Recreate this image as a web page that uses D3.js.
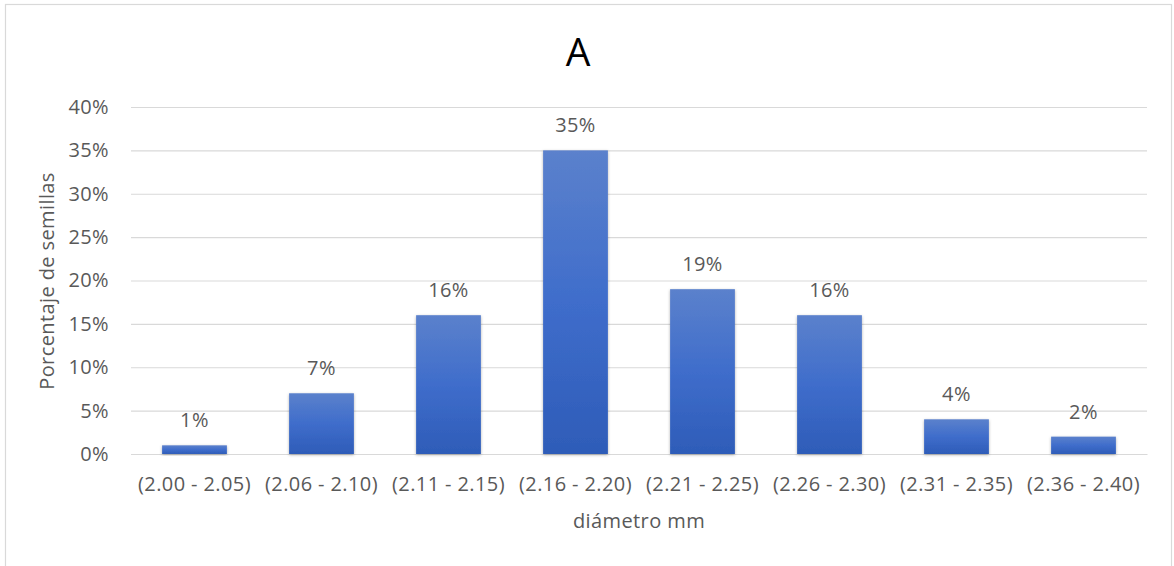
<!DOCTYPE html>
<html>
<head>
<meta charset="utf-8">
<script src="https://cdn.jsdelivr.net/npm/d3@7/dist/d3.min.js"></script>
<style>
  html, body { margin: 0; padding: 0; background: #fff; }
  svg { display: block; }
  text { font-family: "Open Sans", "Segoe UI", sans-serif; fill: #595959; }
</style>
</head>
<body>
<svg id="chart" width="1174" height="566"></svg>
<script>
// Seed diameter classes and the share of seeds in each
const categories = ["(2.00 - 2.05)", "(2.06 - 2.10)", "(2.11 - 2.15)", "(2.16 - 2.20)",
                    "(2.21 - 2.25)", "(2.26 - 2.30)", "(2.31 - 2.35)", "(2.36 - 2.40)"];
const percentages = [1, 7, 16, 35, 19, 16, 4, 2];
const yTicks = [0, 5, 10, 15, 20, 25, 30, 35, 40];

const svg = d3.select("#chart");
const W = 1174, H = 566;
const margin = { left: 131, right: 27, top: 107, bottom: 112 };
const FS = "20px", LS = "0.4px";

// Outer chart frame
svg.append("rect")
  .attr("x", 5.5).attr("y", 4.5)
  .attr("width", W - 8).attr("height", H)
  .attr("fill", "#fff").attr("stroke", "#d9d9d9").attr("stroke-width", 1.2);

const x = d3.scaleBand()
  .domain(categories)
  .range([margin.left, W - margin.right])
  .paddingInner(0.49).paddingOuter(0.245);

const y = d3.scaleLinear()
  .domain([0, 40])
  .range([H - margin.bottom, margin.top]);

// Bar gradient: lighter at top, deeper blue at the base
const defs = svg.append("defs");
const grad = defs.append("linearGradient")
  .attr("id", "barGrad").attr("x1", 0).attr("y1", 0).attr("x2", 0).attr("y2", 1);
grad.append("stop").attr("offset", "0%").attr("stop-color", "#5b81cc");
grad.append("stop").attr("offset", "50%").attr("stop-color", "#3f6dcb");
grad.append("stop").attr("offset", "100%").attr("stop-color", "#2e5cb8");

const shadow = defs.append("filter").attr("id", "barShadow")
  .attr("x", "-20%").attr("y", "-20%").attr("width", "140%").attr("height", "140%");
shadow.append("feDropShadow")
  .attr("dx", 0).attr("dy", 1).attr("stdDeviation", 1.5)
  .attr("flood-color", "#000").attr("flood-opacity", 0.3);

// Horizontal gridlines with percent labels
const yAxis = d3.axisLeft(y)
  .tickValues(yTicks)
  .tickSize(-(W - margin.left - margin.right))
  .tickPadding(22)
  .tickFormat(d => d + "%");

const gy = svg.append("g")
  .attr("transform", `translate(${margin.left},0)`)
  .call(yAxis);
gy.select(".domain").remove();
gy.selectAll(".tick line").attr("stroke", "#d9d9d9").attr("stroke-width", 1.2);
gy.selectAll(".tick text")
  .style("font-size", FS).style("letter-spacing", LS)
  .attr("fill", "#595959");

// Category axis
const xAxis = d3.axisBottom(x).tickSize(0).tickPadding(23);
const gx = svg.append("g")
  .attr("transform", `translate(0,${y(0)})`)
  .call(xAxis);
gx.select(".domain").attr("stroke", "#d9d9d9").attr("stroke-width", 1.2);
gx.selectAll(".tick text")
  .style("font-size", FS).style("letter-spacing", LS)
  .attr("fill", "#595959");

// Bars
svg.append("g").selectAll("rect")
  .data(percentages)
  .join("rect")
  .attr("x", (d, i) => x(categories[i]))
  .attr("y", d => y(d))
  .attr("width", x.bandwidth())
  .attr("height", d => y(0) - y(d))
  .attr("fill", "url(#barGrad)")
  .attr("filter", "url(#barShadow)");

// Value labels above each bar
svg.append("g").selectAll("text")
  .data(percentages)
  .join("text")
  .attr("x", (d, i) => x(categories[i]) + x.bandwidth() / 2)
  .attr("y", d => y(d) - 18)
  .attr("text-anchor", "middle")
  .style("font-size", FS).style("letter-spacing", LS)
  .attr("fill", "#404040")
  .text(d => d + "%");

// Title
svg.append("text")
  .attr("x", 578).attr("y", 66)
  .attr("text-anchor", "middle")
  .style("font-size", "39px")
  .style("fill", "#000")
  .text("A");

// Axis titles
svg.append("text")
  .attr("x", 639).attr("y", 528)
  .attr("text-anchor", "middle")
  .style("font-size", FS).style("letter-spacing", LS)
  .text("diámetro mm");

svg.append("text")
  .attr("transform", `translate(54,281) rotate(-90)`)
  .attr("text-anchor", "middle")
  .style("font-size", FS).style("letter-spacing", LS)
  .text("Porcentaje de semillas");
</script>
</body>
</html>
